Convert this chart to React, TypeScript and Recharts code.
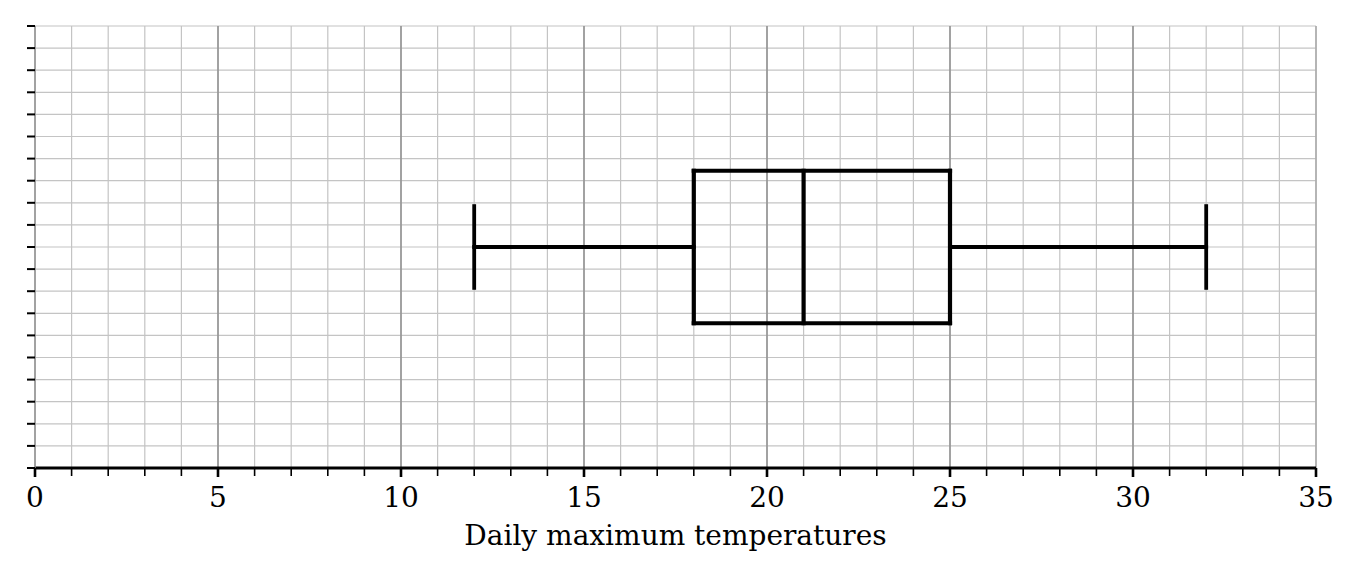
import {
  CartesianGrid,
  ComposedChart,
  ReferenceLine,
  Scatter,
  XAxis,
  YAxis,
} from "recharts";

// Five-number summary of the temperatures
const statNames = ["min", "q1", "median", "q3", "max"];
const statValues = [12, 18, 21, 25, 32];

// Axis ticks
const xMinorTicks = [
  0, 1, 2, 3, 4, 5, 6, 7, 8, 9, 10, 11, 12, 13, 14, 15, 16, 17, 18, 19, 20, 21,
  22, 23, 24, 25, 26, 27, 28, 29, 30, 31, 32, 33, 34, 35,
];
const xMajorTicks = [0, 5, 10, 15, 20, 25, 30, 35];
const yTicks = [
  0, 1, 2, 3, 4, 5, 6, 7, 8, 9, 10, 11, 12, 13, 14, 15, 16, 17, 18, 19, 20,
];

const axisTitle = "Daily maximum temperatures";

const FONT = "'DejaVu Serif', serif";

// tick mark + label on the x axis; majors are heavier and carry a number
function XTick(props: any) {
  const { x, y, payload } = props;
  const major = xMajorTicks.includes(payload.value);
  return (
    <g>
      <line
        x1={x}
        x2={x}
        y1={y}
        y2={y + (major ? 9 : 8)}
        stroke="#000"
        strokeWidth={major ? 2.6 : 1.6}
      />
      {major && (
        <text
          x={x}
          y={y + 39}
          textAnchor="middle"
          fill="#000"
          fontSize={28}
          fontFamily={FONT}
        >
          {payload.value}
        </text>
      )}
    </g>
  );
}

export default function App() {
  const stat = (name: string) => statValues[statNames.indexOf(name)];
  const min = stat("min");
  const q1 = stat("q1");
  const median = stat("median");
  const q3 = stat("q3");
  const max = stat("max");

  // vertical placement of the box on the dummy y scale
  const mid = 10;
  const boxLow = 6.55;
  const boxHigh = 13.45;
  const capLow = 8.15;
  const capHigh = 11.85;

  const seg = (x1: number, y1: number, x2: number, y2: number, w: number) => (
    <ReferenceLine
      key={`${x1}-${y1}-${x2}-${y2}`}
      segment={[
        { x: x1, y: y1 },
        { x: x2, y: y2 },
      ]}
      stroke="#000"
      strokeWidth={w}
      strokeLinecap="square"
    />
  );

  return (
    <div style={{ position: "absolute", left: 0, top: 0 }}>
      <ComposedChart
        width={1360}
        height={578}
        margin={{ top: 26, right: 44, bottom: 30, left: 34 }}
      >
        <CartesianGrid stroke="#c4c4c4" strokeWidth={1.2} />
        <XAxis
          type="number"
          dataKey="x"
          domain={[0, 35]}
          ticks={xMinorTicks}
          interval={0}
          height={80}
          tick={<XTick />}
          tickSize={0}
          tickMargin={0}
          tickLine={false}
          axisLine={{ stroke: "#000", strokeWidth: 3 }}
          label={{
            value: axisTitle,
            position: "insideBottom",
            offset: 3,
            fill: "#000",
            fontSize: 28,
            fontFamily: FONT,
          }}
        />
        <YAxis
          type="number"
          dataKey="y"
          domain={[0, 20]}
          ticks={yTicks}
          interval={0}
          width={1}
          tickFormatter={() => ""}
          tickSize={8}
          tickLine={{ stroke: "#000", strokeWidth: 2 }}
          axisLine={{ stroke: "#8f8f8f", strokeWidth: 1.5 }}
        />
        {xMajorTicks
          .filter((t) => t > 0)
          .map((t) => (
            <ReferenceLine
              key={t}
              x={t}
              stroke={t === 35 ? "#a8a8a8" : "#8f8f8f"}
              strokeWidth={1.5}
            />
          ))}

        {/* whiskers */}
        {seg(min, mid, q1, mid, 3.8)}
        {seg(q3, mid, max, mid, 3.8)}
        {seg(min, capLow, min, capHigh, 3.8)}
        {seg(max, capLow, max, capHigh, 3.8)}

        {/* box and median */}
        {seg(q1, boxLow, q3, boxLow, 4.2)}
        {seg(q1, boxHigh, q3, boxHigh, 4.2)}
        {seg(q1, boxLow, q1, boxHigh, 4.2)}
        {seg(q3, boxLow, q3, boxHigh, 4.2)}
        {seg(median, boxLow, median, boxHigh, 4.2)}

        <Scatter
          data={[{ x: median, y: mid }]}
          shape={() => <g />}
          isAnimationActive={false}
        />
      </ComposedChart>
    </div>
  );
}
